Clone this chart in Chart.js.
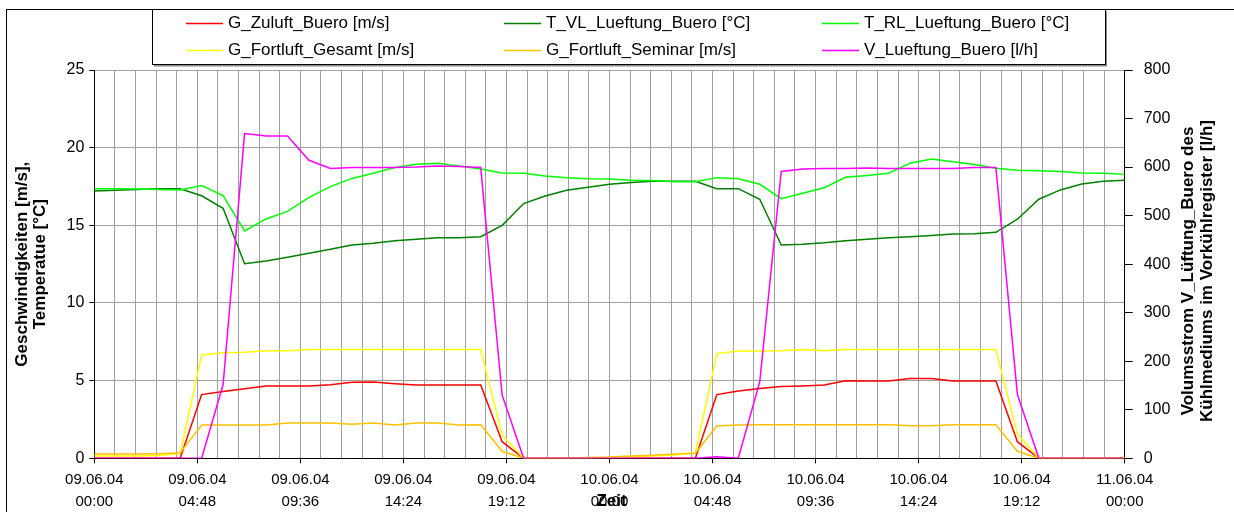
<!DOCTYPE html>
<html>
<head>
<meta charset="utf-8">
<script src="https://cdn.jsdelivr.net/npm/chart.js@4.4.1/dist/chart.umd.min.js"></script>
<style>
  html, body { margin: 0; padding: 0; background: #fff; }
</style>
</head>
<body>
<canvas id="myChart" width="1234" height="512"></canvas>
<script>
// hourly samples, 09.06.04 00:00 .. 11.06.04 00:00
let hours = [0, 1, 2, 3, 4, 5, 6, 7, 8, 9, 10, 11, 12, 13, 14, 15, 16, 17, 18, 19, 20, 21, 22, 23, 24,
  25, 26, 27, 28, 29, 30, 31, 32, 33, 34, 35, 36, 37, 38, 39, 40, 41, 42, 43, 44, 45, 46, 47, 48];

let gZuluftBuero = [0, 0, 0, 0, 0, 4.1, 4.3, 4.48, 4.66, 4.66, 4.66, 4.74, 4.9, 4.91, 4.8, 4.72, 4.72, 4.72, 4.72, 1.07,
  0, 0, 0, 0, 0, 0, 0, 0, 0, 4.1, 4.33, 4.5, 4.63, 4.66, 4.72, 5.0, 4.98, 4.98, 5.13, 5.13, 4.98, 4.98, 4.98, 1.07,
  0, 0, 0, 0, 0];
let tVlLueftungBuero = [17.21, 17.25, 17.3, 17.35, 17.36, 16.9, 16.1, 12.53, 12.7, 12.94, 13.2, 13.46, 13.73, 13.84,
  14.01, 14.1, 14.2, 14.2, 14.27, 15.0, 16.4, 16.89, 17.26, 17.45, 17.65, 17.75, 17.83, 17.83, 17.83, 17.36, 17.36,
  16.68, 13.73, 13.78, 13.87, 14.01, 14.1, 14.2, 14.27, 14.34, 14.44, 14.46, 14.55, 15.39, 16.68, 17.28, 17.66, 17.83, 17.9];
let tRlLueftungBuero = [17.36, 17.36, 17.34, 17.3, 17.28, 17.56, 16.91, 14.64, 15.41, 15.9, 16.8, 17.49, 18.02, 18.35,
  18.72, 18.93, 19.0, 18.82, 18.63, 18.37, 18.35, 18.18, 18.07, 18.0, 17.98, 17.9, 17.88, 17.81, 17.81, 18.07, 18.0,
  17.64, 16.72, 17.06, 17.42, 18.09, 18.2, 18.35, 19.0, 19.27, 19.1, 18.91, 18.67, 18.54, 18.52, 18.46, 18.37, 18.35, 18.28];
let gFortluftGesamt = [0.15, 0.15, 0.15, 0.18, 0.3, 6.65, 6.8, 6.83, 6.93, 6.93, 7.0, 7.0, 7.0, 7.0, 7.0, 7.0, 7.0, 7.0,
  7.0, 1.5, 0, 0, 0, 0, 0.05, 0.1, 0.15, 0.22, 0.36, 6.74, 6.91, 6.91, 6.93, 7.0, 6.93, 7.0, 7.0, 7.0, 7.0, 7.0, 7.0,
  7.0, 7.0, 1.56, 0, 0, 0, 0, 0];
let gFortluftSeminar = [0.28, 0.28, 0.28, 0.3, 0.35, 2.14, 2.14, 2.14, 2.14, 2.27, 2.27, 2.27, 2.19, 2.27, 2.14, 2.27,
  2.27, 2.14, 2.16, 0.45, 0, 0, 0.02, 0.05, 0.08, 0.15, 0.2, 0.27, 0.32, 2.08, 2.14, 2.16, 2.16, 2.16, 2.16, 2.16,
  2.16, 2.16, 2.1, 2.1, 2.16, 2.16, 2.16, 0.45, 0, 0, 0, 0, 0.05];
let vLueftungBuero = [0, 0, 0, 0, 0, 0, 152, 669, 664, 664, 614, 597, 599, 599, 599, 600, 602, 601, 599, 130,
  0, 0, 0, 0, 0, 0, 0, 0, 0, 3, 0, 158, 591, 596, 597, 597, 598, 597, 597, 597, 597, 599, 599, 132, 0, 0, 0, 0, 0];

let seriesLabels = ['G_Zuluft_Buero [m/s]', 'T_VL_Lueftung_Buero [°C]', 'T_RL_Lueftung_Buero [°C]',
  'G_Fortluft_Gesamt [m/s]', 'G_Fortluft_Seminar [m/s]', 'V_Lueftung_Buero [l/h]'];
let seriesColors = ['#ff0000', '#008000', '#00ff00', '#ffff00', '#ffc000', '#ff00ff'];

let xTickLabels = [
  ['09.06.04', '00:00'], ['09.06.04', '04:48'], ['09.06.04', '09:36'], ['09.06.04', '14:24'], ['09.06.04', '19:12'],
  ['10.06.04', '00:00'], ['10.06.04', '04:48'], ['10.06.04', '09:36'], ['10.06.04', '14:24'], ['10.06.04', '19:12'],
  ['11.06.04', '00:00']
];
let leftTitle = ['Geschwindigkeiten [m/s],', 'Temperatue [°C]'];
let rightTitle = ['Volumsstrom V_Lüftung_Buero des', 'Kühlmediums im Vorkühlregister [l/h]'];
let xTitle = 'Zeit';

const FONT = "'Liberation Sans', Arial, sans-serif";
// vertical gridlines every 0.04 day (0.96 h), labels every 5th
let gridSteps = Array.from({ length: 51 }, (_, k) => k * 0.96);

function pts(values) {
  return hours.map((h, i) => ({ x: h, y: values[i] }));
}

let seriesValues = [gZuluftBuero, tVlLueftungBuero, tRlLueftungBuero, gFortluftGesamt, gFortluftSeminar, vLueftungBuero];
let datasets = seriesValues.map((vals, i) => ({
  label: seriesLabels[i],
  data: pts(vals),
  borderColor: seriesColors[i],
  backgroundColor: seriesColors[i],
  borderWidth: 1.5,
  pointRadius: 0,
  tension: 0,
  fill: false,
  order: 5 - i,
  yAxisID: i === 5 ? 'y2' : 'y'
}));

const extras = {
  id: 'extras',
  afterDraw(chart) {
    let ctx = chart.ctx;
    ctx.save();
    // outer frame
    ctx.strokeStyle = '#000';
    ctx.lineWidth = 1;
    ctx.strokeRect(6.5, 9.5, 1240, 520);

    // legend box with shadow
    ctx.fillStyle = '#8c8c8c';
    ctx.fillRect(154, 11.5, 953, 55);
    ctx.fillStyle = '#fff';
    ctx.fillRect(152.5, 9.5, 953, 55);
    ctx.strokeStyle = '#000';
    ctx.strokeRect(152.5, 9.5, 953, 55);

    let colX = [186, 504, 822];
    let rowY = [23.5, 50.5];
    ctx.font = '17px ' + FONT;
    ctx.textBaseline = 'middle';
    ctx.textAlign = 'left';
    chart.data.datasets.forEach((ds, i) => {
      let x = colX[i % 3];
      let y = rowY[Math.floor(i / 3)];
      ctx.strokeStyle = ds.borderColor;
      ctx.lineWidth = 1.5;
      ctx.beginPath();
      ctx.moveTo(x, y);
      ctx.lineTo(x + 37, y);
      ctx.stroke();
      ctx.fillStyle = '#000';
      ctx.fillText(ds.label, x + 42, y);
    });

    // right axis title, reading bottom to top
    ctx.font = 'bold 17px ' + FONT;
    ctx.textAlign = 'center';
    [1188, 1207].forEach((x, i) => {
      ctx.save();
      ctx.translate(x, 271);
      ctx.rotate(-Math.PI / 2);
      ctx.fillText(rightTitle[i], 0, 0);
      ctx.restore();
    });

    // x axis title (sits on the middle date label as in the original)
    ctx.fillText(xTitle, 611.5, 501);
    ctx.restore();
  }
};

let ctx = document.getElementById('myChart').getContext('2d');
let myChart = new Chart(ctx, {
  type: 'line',
  data: { datasets: datasets },
  options: {
    responsive: false,
    animation: false,
    devicePixelRatio: 1,
    layout: { padding: { top: 70, left: 0, right: 0, bottom: 0 } },
    plugins: {
      legend: { display: false },
      tooltip: { enabled: false }
    },
    scales: {
      x: {
        type: 'linear',
        min: 0,
        max: 48,
        afterBuildTicks: (scale) => { scale.ticks = gridSteps.map(v => ({ value: v })); },
        afterFit: (scale) => { scale.height = 53.7; },
        ticks: {
          autoSkip: false,
          maxRotation: 0,
          minRotation: 0,
          padding: 6,
          color: '#000',
          font: { family: FONT, size: 15, lineHeight: 1.43 },
          callback: (value, index) => index % 5 === 0 ? xTickLabels[index / 5] : ''
        },
        grid: {
          color: '#a0a0a0',
          lineWidth: 1,
          tickLength: 5,
          tickColor: (c) => c.index % 5 === 0 ? '#000' : 'rgba(0,0,0,0)'
        },
        border: { color: '#000', width: 1 }
      },
      y: {
        position: 'left',
        min: 0,
        max: 25,
        afterFit: (scale) => { scale.width = 94.3; },
        ticks: {
          stepSize: 5,
          padding: 5,
          color: '#000',
          font: { family: FONT, size: 16 }
        },
        grid: { color: '#a0a0a0', lineWidth: 1, tickLength: 5, tickColor: '#000' },
        border: { color: '#000', width: 1 },
        title: {
          display: true,
          text: leftTitle,
          color: '#000',
          font: { family: FONT, size: 17, weight: 'bold', lineHeight: 1.1 },
          padding: { top: 12.6, bottom: 0 }
        }
      },
      y2: {
        position: 'right',
        min: 0,
        max: 800,
        afterFit: (scale) => { scale.width = 109.3; },
        ticks: {
          stepSize: 100,
          padding: 11,
          color: '#000',
          font: { family: FONT, size: 16 }
        },
        grid: { drawOnChartArea: false, tickLength: 8, tickColor: '#000' },
        border: { color: '#000', width: 1 }
      }
    }
  },
  plugins: [extras]
});
</script>
</body>
</html>
